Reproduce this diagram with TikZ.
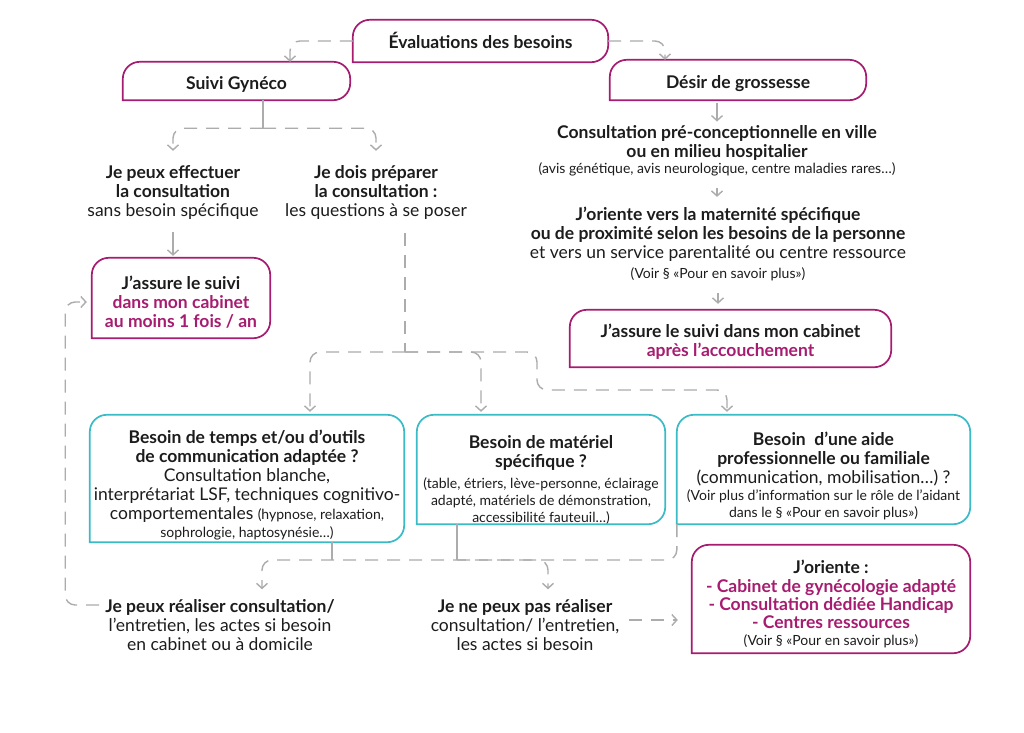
\documentclass[tikz,border=0pt]{standalone}
\usepackage{fontspec}
\setmainfont{Lato}
\usetikzlibrary{arrows.meta, positioning, calc}

\definecolor{plum}{RGB}{166,28,112}
\definecolor{lagoon}{RGB}{58,188,200}
\definecolor{flowgray}{RGB}{172,172,172}
\definecolor{ink}{RGB}{28,28,28}
\newcommand{\smalltxt}{\fontsize{14}{16}\selectfont}

\begin{document}
\begin{tikzpicture}[x=1pt, y=-1pt, >={Straight Barb[length=5pt, width=11pt]},
    txt/.style={align=center, inner sep=0pt, text=ink, font=\fontsize{17.5}{19}\selectfont},
    hd/.style={txt, font=\fontsize{17.5}{19}\selectfont\bfseries},
    frame/.style={inner sep=0pt},
    magline/.style={draw=plum, line width=1.7pt, rounded corners=17pt, line cap=rect},
    cyanline/.style={draw=lagoon, line width=1.7pt, rounded corners=17pt, line cap=rect},
    flow/.style={draw=flowgray, line width=1.4pt, dash pattern=on 13pt off 9pt, rounded corners=10pt},
    stem/.style={draw=flowgray, line width=1.4pt}]
      \fill[white] (0,0) rectangle (1024,732);
      \useasboundingbox (0,0) rectangle (1024,732);

      % Frames
      \node[frame, minimum width=255pt, minimum height=42pt] (eval) at (480.5,41) {};
      \node[frame, minimum width=227pt, minimum height=38pt] (suivi) at (236.5,81) {};
      \node[frame, minimum width=256pt, minimum height=40pt] (desir) at (738,80) {};
      \node[frame, minimum width=178pt, minimum height=80pt] (assure) at (181,298) {};
      \node[frame, minimum width=321pt, minimum height=57pt] (apres) at (730.5,338.5) {};
      \node[frame, minimum width=314pt, minimum height=127pt] (temps) at (247,478.5) {};
      \node[frame, minimum width=248pt, minimum height=109pt] (materiel) at (541,469.5) {};
      \node[frame, minimum width=293pt, minimum height=109pt] (aide) at (823.5,469.5) {};
      \node[frame, minimum width=278pt, minimum height=108pt] (joriente) at (831,599) {};

      % Box texts
      \node[hd] (evaltext) at (480.5,40) {Évaluations des besoins};
      \node[hd] (suivitext) at (236.5,84) {Suivi Gynéco};
      \node[hd] (desirtext) at (738,84) {Désir de grossesse};
      \node[hd] (assuretext) at (181,302.5)
        {J’assure le suivi\\\textcolor{plum}{dans mon cabinet}\\\textcolor{plum}{au moins 1 fois / an}};
      \node[hd] (aprestext) at (730.5,342)
        {J’assure le suivi dans mon cabinet\\\textcolor{plum}{après l’accouchement}};
      \node[txt] (tempstext) at (247,485)
        {\textbf{Besoin de temps et/ou d’outils}\\\textbf{de communication adaptée ?}\\Consultation blanche,\\
        interprétariat LSF, techniques cognitivo-\\comportementales {\smalltxt (hypnose, relaxation,}\\[-1pt]
        {\smalltxt sophrologie, haptosynésie…)}};
      \node[txt] (materieltext) at (541,480.5)
        {\textbf{Besoin de matériel}\\\textbf{spécifique ?}\\[2pt]{\smalltxt (table, étriers, lève-personne, éclairage}\\[-2pt]
        {\smalltxt adapté, matériels de démonstration,}\\[-2pt]{\smalltxt accessibilité fauteuil…)}};
      \node[txt] (aidetext) at (823.5,475.5)
        {\textbf{Besoin \ d’une aide}\\\textbf{professionnelle ou familiale}\\(communication, mobilisation…) ?\\[-2pt]
        {\smalltxt (Voir plus d’information sur le rôle de l’aidant}\\[-2pt]{\smalltxt dans le § «Pour en savoir plus»)}};
      \node[hd] (jorientetext) at (831,603.5)
        {J’oriente :\\\textcolor{plum}{- Cabinet de gynécologie adapté}\\[-1pt]\textcolor{plum}{- Consultation dédiée Handicap}\\[-1pt]
        \textcolor{plum}{- Centres ressources}\\[-2pt]{\smalltxt\mdseries (Voir § «Pour en savoir plus»)}};

      % Free texts
      \node[txt] (peux) at (173,192) {\textbf{Je peux effectuer}\\\textbf{la consultation}\\sans besoin spécifique};
      \node[txt] (dois) at (376,192) {\textbf{Je dois préparer}\\\textbf{la consultation :}\\les questions à se poser};
      \node[txt] (precons) at (717,151) {\textbf{Consultation pré-conceptionnelle en ville}\\\textbf{ou en milieu hospitalier}\\[-3pt]
        {\smalltxt (avis génétique, avis neurologique, centre maladies rares…)}};
      \node[txt] (oriente) at (718,244) {\textbf{J’oriente vers la maternité spécifique}\\\textbf{ou de proximité selon les besoins de la personne}\\
        et vers un service parentalité ou centre ressource\\[1pt]{\smalltxt (Voir § «Pour en savoir plus»)}};
      \node[txt] (realiser) at (220,625) {\textbf{Je peux réaliser consultation/}\\l’entretien, les actes si besoin\\en cabinet ou à domicile};
      \node[txt] (nepeux) at (525,625) {\textbf{Je ne peux pas réaliser}\\consultation/ l’entretien,\\les actes si besoin};

      % Outlines
      \foreach \n in {eval, suivi, desir, assure, apres, joriente}
        \draw[magline] (\n.south west) -- (\n.north west) -- (\n.north east) -- (\n.south east) -- (\n.south west);
      \foreach \n in {temps, materiel, aide}
        \draw[cyanline] (\n.south west) -- (\n.north west) -- (\n.north east) -- (\n.south east) -- (\n.south west);

      % Arrows
      \draw[flow, ->] (eval.west) -| ([xshift=53.5pt]suivi.north);
      \draw[flow, ->] (eval.east) -| ([xshift=-73pt]desir.north);
      \draw[stem] ([xshift=26.5pt]suivi.south) -- ++(0,28) coordinate (split);
      \draw[flow, ->, shorten >=14pt] (split) -| (peux.north);
      \draw[flow, ->, shorten >=14pt] (split) -| (dois.north);
      \draw[stem, ->, shorten <=13pt, shorten >=2pt] (peux.south) -- (peux.south |- assure.north);

      \coordinate (hub) at (405,352);
      \draw[flow] ([xshift=29pt, yshift=-14pt]dois.south) -- (hub);
      \draw[flow, ->, shorten >=3pt] (hub) -| ([xshift=63pt]temps.north);
      \draw[flow, ->, shorten >=3pt] (hub) -| ([xshift=-60pt]materiel.north);
      \draw[flow, ->, shorten >=3pt] (hub) -| (537,390) -| ([xshift=-96.5pt]aide.north);

      \draw[stem, ->, shorten <=3pt, shorten >=4pt] (precons.north |- desir.south) -- (precons.north);
      \draw[stem, ->, shorten <=12pt, shorten >=10pt] (precons.south) -- (precons.south |- oriente.north);
      \draw[stem, ->, shorten <=12pt, shorten >=6pt] (oriente.south) -- (oriente.south |- apres.north);

      \coordinate (junc) at (457,560);
      \draw[stem] ([xshift=85pt]temps.south) -- ++(0,18);
      \draw[stem] ([xshift=-84pt]materiel.south) -- (junc);
      \draw[flow, ->, shorten >=10pt] (aide.south west) |- (junc) -| ([xshift=42pt]realiser.north);
      \draw[flow, ->, shorten >=10pt] (junc) -| ([xshift=23pt]nepeux.north);

      \draw[flow, ->, shorten <=6pt, shorten >=5pt] ([yshift=20pt]realiser.west) -- ++(-40,0) |- ([yshift=-4pt]assure.west);
      \draw[flow, ->, shorten <=10pt, shorten >=14pt] ([yshift=5pt]nepeux.east) -- ([yshift=5pt]nepeux.east -| joriente.west);
\end{tikzpicture}
\end{document}
